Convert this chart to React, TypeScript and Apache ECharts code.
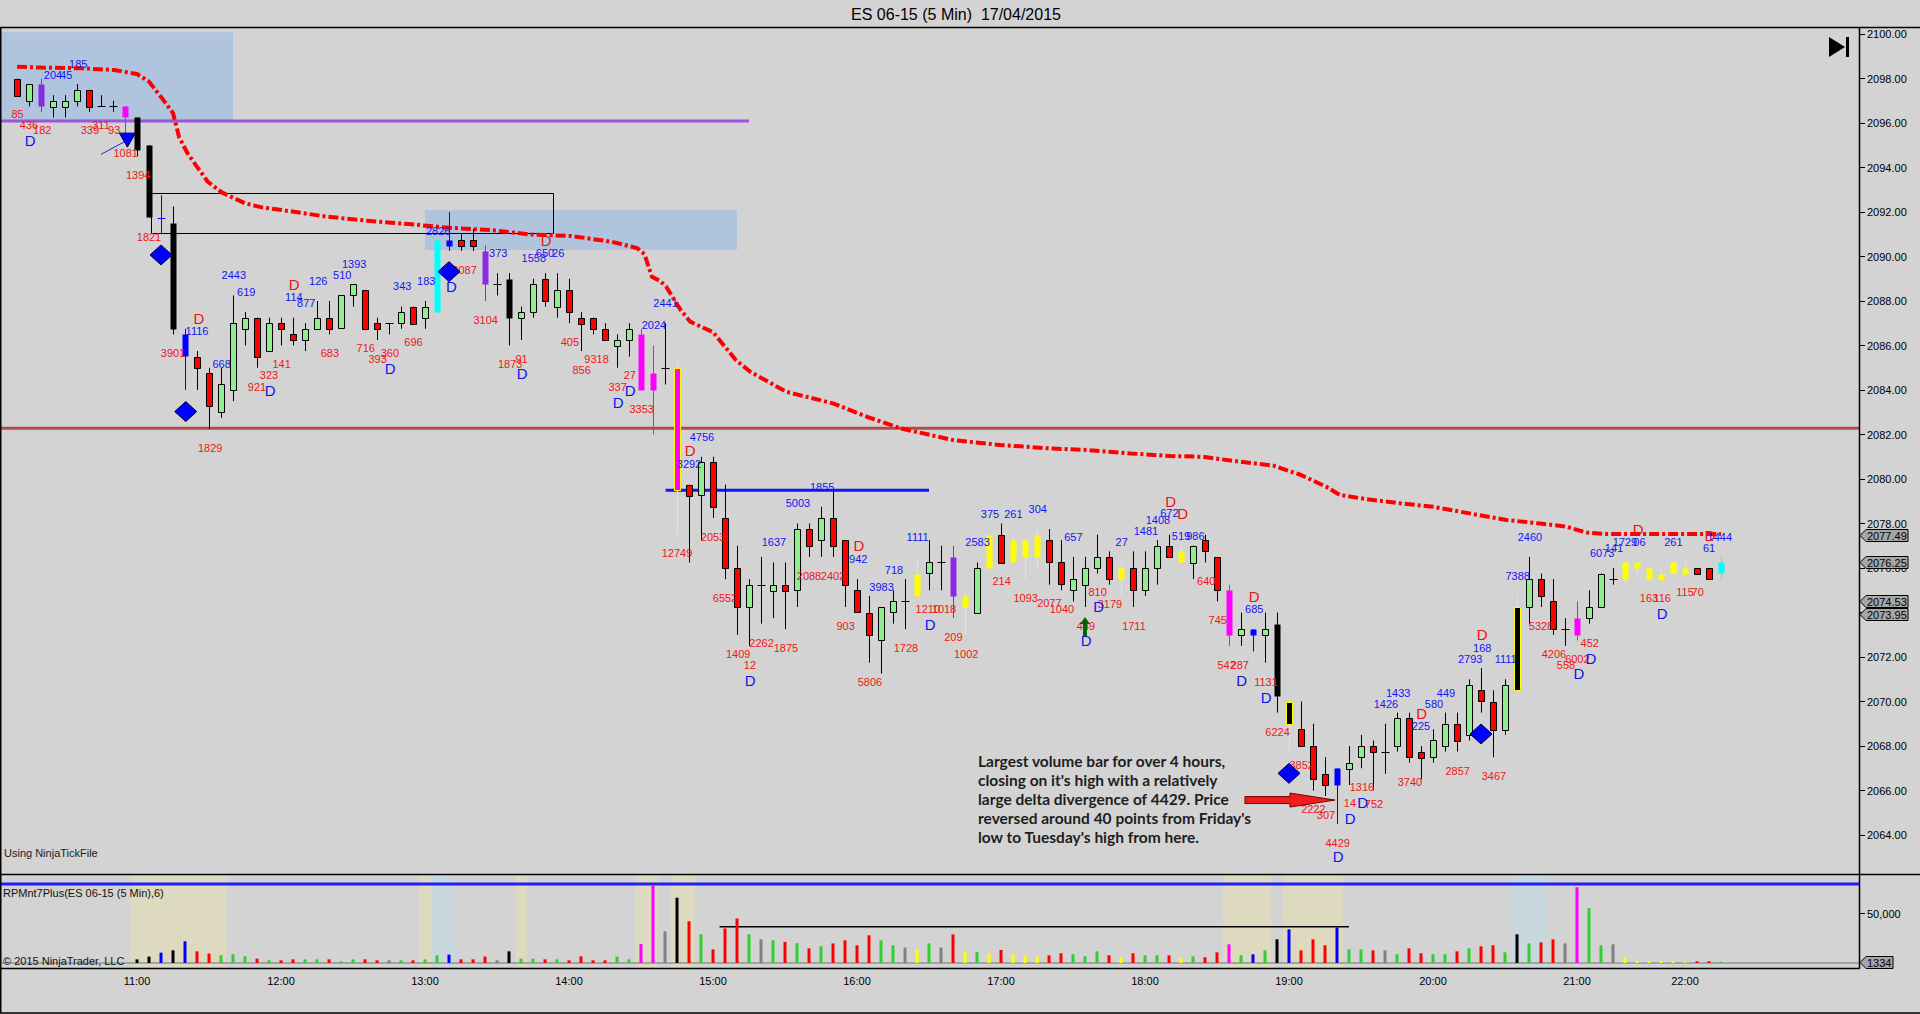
import React, { useEffect, useRef } from "react";
import * as echarts from "echarts";

const FONT = '"Liberation Sans", Arial, sans-serif';

const titleText = "ES 06-15 (5 Min)  17/04/2015";
const hourTicks = [10, 22, 34, 46, 58, 70, 82, 94, 106, 118, 130, 139];
const hourLabels = ["11:00", "12:00", "13:00", "14:00", "15:00", "16:00", "17:00", "18:00", "19:00", "20:00", "21:00", "22:00"];

const opens = [
  2098.0, 2097.0, 2097.75, 2096.75, 2096.75, 2097.0, 2097.5, 2096.75, 2096.75, 2096.75,
  2096.25, 2095.0, 2091.75, 2091.5, 2086.5, 2085.5, 2084.75, 2083.0, 2084.0, 2086.75,
  2087.25, 2085.75, 2087.0, 2086.5, 2086.25, 2086.75, 2087.25, 2086.75, 2088.25, 2088.5,
  2087.0, 2087.0, 2087.0, 2087.75, 2087.25, 2087.5, 2090.75, 2090.75, 2090.75, 2090.25,
  2088.75, 2089.0, 2087.25, 2087.5, 2089.0, 2087.75, 2088.5, 2087.25, 2087.25, 2086.75,
  2086.0, 2086.25, 2086.5, 2084.75, 2085.0, 2085.0, 2079.75, 2079.25, 2080.75, 2078.25,
  2076.0, 2074.25, 2075.25, 2075.0, 2075.25, 2075.0, 2077.75, 2077.25, 2078.25, 2077.25,
  2075.0, 2074.0, 2072.75, 2074.0, 2074.5, 2074.75, 2075.75, 2076.25, 2076.5, 2074.25,
  2074.0, 2076.0, 2077.5, 2076.25, 2077.25, 2076.5, 2077.25, 2076.25, 2075.0, 2075.25,
  2076.0, 2076.5, 2075.5, 2076.0, 2075.0, 2076.0, 2077.0, 2076.25, 2076.25, 2077.25,
  2076.5, 2075.0, 2073.0, 2073.25, 2073.0, 2073.5, 2070.0, 2068.75, 2068.0, 2066.75,
  2066.25, 2067.0, 2067.5, 2068.0, 2067.75, 2068.0, 2069.25, 2067.75, 2067.5, 2068.0,
  2069.0, 2068.5, 2070.5, 2070.0, 2068.75, 2070.5, 2074.25, 2075.5, 2074.5, 2073.25,
  2073.0, 2073.75, 2074.25, 2075.5, 2075.5, 2076.25, 2076.0, 2075.5, 2075.75, 2076.0,
  2076.0, 2076.0, 2075.75,
];
const highs = [
  2098.0, 2097.75, 2098.0, 2097.25, 2097.25, 2097.75, 2097.5, 2097.25, 2097.0, 2096.75,
  2096.25, 2095.0, 2092.75, 2092.25, 2086.75, 2085.75, 2085.0, 2085.0, 2088.25, 2087.5,
  2087.25, 2087.25, 2087.25, 2087.25, 2087.0, 2088.0, 2088.0, 2088.25, 2088.75, 2088.5,
  2087.25, 2087.0, 2087.75, 2087.75, 2088.0, 2090.75, 2092.0, 2091.0, 2091.25, 2090.5,
  2089.25, 2089.25, 2087.75, 2089.0, 2089.25, 2089.25, 2089.0, 2087.5, 2087.25, 2087.0,
  2086.5, 2087.0, 2086.75, 2086.0, 2087.0, 2085.25, 2079.75, 2081.0, 2081.0, 2079.75,
  2077.0, 2075.5, 2076.5, 2076.25, 2076.25, 2078.0, 2078.0, 2078.75, 2079.5, 2077.25,
  2075.5, 2074.75, 2074.25, 2075.0, 2075.5, 2076.5, 2077.25, 2077.0, 2077.0, 2075.0,
  2076.25, 2077.5, 2078.0, 2077.5, 2077.25, 2077.75, 2077.75, 2077.25, 2076.5, 2076.5,
  2077.5, 2076.75, 2076.25, 2076.75, 2076.75, 2077.25, 2077.5, 2077.0, 2077.0, 2077.5,
  2076.5, 2075.25, 2074.0, 2073.25, 2074.0, 2074.0, 2070.0, 2070.0, 2069.0, 2067.5,
  2067.0, 2068.0, 2068.5, 2068.25, 2069.0, 2069.5, 2069.5, 2068.0, 2068.75, 2069.5,
  2069.5, 2071.0, 2071.5, 2070.5, 2071.0, 2074.75, 2076.5, 2075.75, 2075.5, 2073.75,
  2074.5, 2075.0, 2075.75, 2076.0, 2076.25, 2076.25, 2076.0, 2076.0, 2076.25, 2076.25,
  2076.0, 2076.0, 2076.5,
];
const lows = [
  2097.25, 2096.75, 2096.5, 2096.25, 2096.25, 2096.75, 2096.5, 2096.75, 2096.5, 2095.5,
  2094.5, 2091.75, 2091.0, 2086.5, 2084.0, 2084.0, 2082.25, 2082.75, 2083.5, 2086.0,
  2085.0, 2085.75, 2086.0, 2086.0, 2085.75, 2086.75, 2086.5, 2086.75, 2087.75, 2086.75,
  2086.25, 2086.5, 2086.75, 2087.0, 2086.75, 2087.5, 2090.25, 2090.25, 2090.25, 2088.0,
  2088.25, 2086.0, 2086.25, 2087.25, 2087.75, 2087.25, 2087.0, 2085.75, 2086.5, 2086.25,
  2085.0, 2085.5, 2084.0, 2082.0, 2084.25, 2077.5, 2076.25, 2077.25, 2078.25, 2075.5,
  2073.0, 2072.5, 2073.5, 2073.75, 2073.25, 2074.25, 2076.5, 2076.5, 2076.5, 2074.25,
  2074.0, 2071.75, 2071.25, 2073.5, 2073.25, 2074.75, 2075.0, 2075.0, 2073.75, 2073.0,
  2074.0, 2076.0, 2076.25, 2076.25, 2075.5, 2076.0, 2075.25, 2075.0, 2074.5, 2074.25,
  2075.75, 2075.25, 2074.75, 2074.25, 2074.75, 2075.25, 2076.5, 2076.25, 2075.5, 2076.25,
  2074.5, 2072.5, 2072.5, 2072.25, 2071.75, 2069.5, 2067.75, 2068.0, 2066.0, 2065.75,
  2064.5, 2066.25, 2067.0, 2066.0, 2066.75, 2067.75, 2067.25, 2066.5, 2067.25, 2067.75,
  2067.75, 2068.25, 2069.5, 2067.5, 2068.5, 2070.5, 2073.5, 2074.25, 2073.0, 2072.5,
  2072.75, 2073.5, 2074.25, 2075.25, 2075.25, 2075.75, 2075.5, 2075.5, 2075.75, 2075.75,
  2075.75, 2075.5, 2075.5,
];
const closes = [
  2097.25, 2097.75, 2096.75, 2097.0, 2097.0, 2097.5, 2096.75, 2096.75, 2096.75, 2096.25,
  2094.75, 2091.75, 2091.75, 2086.75, 2085.5, 2085.0, 2083.25, 2084.25, 2087.0, 2087.25,
  2085.5, 2087.0, 2086.75, 2086.25, 2086.75, 2087.25, 2086.75, 2088.25, 2088.75, 2086.75,
  2086.75, 2087.0, 2087.5, 2087.0, 2087.75, 2090.75, 2090.5, 2090.5, 2090.5, 2088.75,
  2088.75, 2087.25, 2087.5, 2088.75, 2088.0, 2088.5, 2087.5, 2087.0, 2086.75, 2086.25,
  2086.25, 2086.75, 2084.0, 2084.0, 2085.0, 2079.5, 2079.25, 2080.75, 2078.75, 2076.0,
  2074.25, 2075.25, 2075.25, 2075.25, 2075.0, 2077.75, 2077.0, 2078.25, 2077.0, 2075.25,
  2074.0, 2073.0, 2074.25, 2074.5, 2074.5, 2075.75, 2076.25, 2076.25, 2074.75, 2074.75,
  2076.0, 2077.5, 2076.25, 2077.25, 2076.5, 2077.5, 2076.25, 2075.25, 2075.5, 2076.0,
  2076.5, 2075.5, 2076.0, 2075.0, 2076.0, 2077.0, 2076.5, 2076.75, 2077.0, 2076.75,
  2075.0, 2073.0, 2073.25, 2073.0, 2073.25, 2070.25, 2069.0, 2068.0, 2066.5, 2066.25,
  2067.0, 2067.25, 2068.0, 2067.75, 2067.75, 2069.25, 2067.5, 2067.5, 2068.25, 2069.0,
  2068.25, 2070.75, 2070.0, 2068.75, 2070.75, 2074.25, 2075.5, 2074.75, 2073.25, 2073.25,
  2073.75, 2074.25, 2075.75, 2075.5, 2076.25, 2076.0, 2075.5, 2075.75, 2076.25, 2075.75,
  2075.75, 2075.5, 2076.25,
];
// n normal, p purple, m magenta, M magenta+yellow, k black, K black+yellow, b blue, c cyan, y yellow
const barKinds =
  "nnpnnnnnnm" + "kkbkbnnnnn" + "nnnnnnnnnn" + "nnnnncbnnp" + "nknnnnnnnn" +
  "nnmmnMnnnn" + "nnnnnnnnnn" + "nnnnnynnpy" + "nynyyynnnn" + "nnynnnnynn" +
  "nmnbnkKnnn" + "bnnnnnnnnn" + "nnnnnKnnnn" + "mnnnyyyyyy" + "nnc";

const VOL_FIRST = 10;
const volumes = [
  3700, 6500, 10500, 12800, 22000, 11800, 9500, 7800, 8800, 6800,
  4400, 2700, 2700, 3700, 3700, 3700, 3700, 1700, 3700, 3700,
  2700, 2700, 2700, 2700, 3700, 7800, 8500, 3700, 3700, 6500,
  2700, 11800, 4400, 4400, 3700, 3700, 2700, 6800, 2700, 2700,
  6500, 3700, 19200, 78600, 32000, 66000, 42200, 29000, 13800, 35000,
  45000, 29000, 24000, 23000, 21300, 20000, 14800, 16900, 19800, 23000,
  17900, 28000, 23000, 17900, 15600, 13800, 19800, 15600, 29000, 11100,
  11100, 9800, 13200, 8800, 7800, 6800, 7800, 9800, 8800, 6800,
  11800, 7800, 5800, 9800, 7800, 7800, 7800, 4800, 6800, 5800,
  10800, 18900, 7800, 8800, 12800, 24000, 34000, 12800, 24000, 17900,
  36000, 13800, 13800, 12800, 12800, 8800, 14800, 9800, 8800, 8800,
  11800, 14800, 16900, 17900, 10800, 29000, 19800, 20800, 24000, 19800,
  76600, 55400, 17900, 18900, 5800, 1800, 1800, 1800, 1800, 800,
  1800, 1800, 1334,
];
const volKinds =
  "kkbkbrrggg" + "rgrrggrggr" + "ragrggbrrr" + "akggrgrrrr" + "ggmmakrgrr" +
  "rgagrgrgrr" + "rrggaygary" + "gyryyyrrgg" + "gryrggrygr" + "rmgbgkbrrr" +
  "bggragrrgg" + "rgrrgkgrra" + "mggayyyyyy" + "rrg";

const vwapIdx = [
  0, 2, 5.4, 8.1, 10, 11, 12.2, 13, 13.5, 14.2, 14.9, 15.9, 17.1, 19, 20.4, 23.1, 25.8, 29.2,
  32.6, 36, 39.4, 42.8, 46.2, 49.6, 51.7, 52.3, 52.9, 53.6, 54.1, 55.3, 56.1, 58, 59.9, 61.1,
  64.1, 68, 70.8, 73.6, 78, 81.9, 85.9, 89.3, 92.8, 96.1, 98.8, 101.3, 104.7, 107, 109.1,
  110.25, 112.5, 115.25, 118, 121.4, 124.1, 126.9, 129.1, 130.8, 132.5, 142,
];
const vwapVal = [
  2098.53, 2098.49, 2098.46, 2098.38, 2098.2, 2097.86, 2097.03, 2096.45, 2095.38, 2094.65,
  2094.11, 2093.36, 2092.87, 2092.39, 2092.21, 2092.01, 2091.79, 2091.61, 2091.46, 2091.29,
  2091.19, 2090.99, 2090.92, 2090.66, 2090.37, 2090.1, 2089.09, 2088.9, 2088.64, 2087.6,
  2087.07, 2086.6, 2085.35, 2084.82, 2083.92, 2083.4, 2082.8, 2082.28, 2081.75, 2081.53,
  2081.38, 2081.3, 2081.15, 2081.03, 2081.0, 2080.82, 2080.6, 2080.18, 2079.65, 2079.28,
  2079.09, 2078.91, 2078.75, 2078.42, 2078.16, 2078.0, 2077.86, 2077.59, 2077.53, 2077.53,
];

const redNoteText = ["85","436","182","339","311","93","1081","1394","1821","3901","1829","323","921","141","683","716","393","360","696","2087","3104","1873","91","405","856","9318","27","337","3353","12749","2053","6552","2088","2402","903","1409","12","2262","1875","5806","1728","1210","1018","209","1002","214","1093","2077","1040","449","810","3179","1711","640","745","542","287","1131","6224","3852","2222","307","14","752","4429","1316","3740","2857","3467","5328","4206","558","6002","452","163","116","115","70"];
const redNoteIdx = [0.05,1.0,2.1,6.07,7.0,8.1,9.06,10.1,11.0,13.0,16.1,21.0,20.0,22.05,26.07,29.06,30.05,31.07,33.04,37.3,39.06,41.1,42.05,46.07,47.05,48.3,51.07,50.05,52.06,55.0,58.0,59.0,66.0,68.0,69.05,60.1,61.08,62.05,64.08,71.08,74.08,75.9,77.25,78.03,79.1,82.05,84.06,86.03,87.08,89.08,90.05,91.08,93.08,99.1,100.06,100.8,101.9,104.08,105.05,107.06,108.03,109.08,111.08,113.08,110.06,112.08,116.08,120.06,123.08,127.0,128.08,129.08,130.03,131.06,136.0,137.1,139.0,140.06];
const redNotePrice = [2096.39,2095.91,2095.68,2095.68,2095.91,2095.68,2094.64,2093.66,2090.89,2085.68,2081.38,2084.67,2084.15,2085.17,2085.68,2085.9,2085.39,2085.68,2086.17,2089.39,2087.15,2085.17,2085.39,2086.17,2084.9,2085.39,2084.67,2084.15,2083.15,2076.66,2077.38,2074.64,2075.64,2075.64,2073.39,2072.13,2071.64,2072.64,2072.42,2070.89,2072.42,2074.17,2074.17,2072.88,2072.13,2075.41,2074.64,2074.41,2074.16,2073.41,2074.94,2074.38,2073.41,2075.43,2073.66,2071.64,2071.64,2070.89,2068.61,2067.15,2065.16,2064.9,2065.42,2065.39,2063.62,2066.15,2066.4,2066.88,2066.67,2073.41,2072.13,2071.64,2071.91,2072.64,2074.67,2074.67,2074.91,2074.91];

const blueNoteText = ["185","204","45","1116","668","2443","619","114","877","126","510","1393","343","183","2826","373","1558","650","26","2441","2024","4756","3292","1855","5003","1637","942","3983","718","1111","2583","375","261","304","657","27","1481","1408","672","519","986","685","1426","1433","225","580","449","2793","168","1111","2460","7388","6073","141","1729","06","261","1444","61"];
const blueNoteIdx = [5.1,3.0,4.1,15.0,17.05,18.07,19.1,23.07,24.1,25.1,27.1,28.1,32.1,34.1,35.1,40.1,43.07,44.0,45.1,54.05,53.08,57.08,56.0,67.1,65.08,63.08,70.1,72.05,73.08,75.05,80.05,81.08,83.03,85.06,88.03,92.06,94.08,95.08,96.03,97.0,98.2,103.1,114.08,115.1,117.0,118.08,119.08,121.1,122.1,124.06,126.08,125.06,132.1,133.08,134.0,135.2,138.03,141.9,141.0];
const blueNotePrice = [2098.65,2098.16,2098.16,2086.65,2085.17,2089.17,2088.39,2088.19,2087.9,2088.9,2089.17,2089.66,2088.67,2088.9,2091.16,2090.14,2089.92,2090.14,2090.14,2087.93,2086.92,2081.9,2080.67,2079.65,2078.93,2077.15,2076.4,2075.16,2075.91,2077.39,2077.15,2078.41,2078.41,2078.64,2077.39,2077.15,2077.66,2078.16,2078.46,2077.43,2077.43,2074.16,2069.89,2070.4,2068.9,2069.89,2070.4,2071.91,2072.42,2071.91,2077.38,2075.64,2076.66,2076.92,2077.18,2077.18,2077.18,2077.38,2076.89];

const dBlueIdx = [1.1,21.1,31.1,36.2,42.1,51.1,50.1,61.1,76.1,89.1,90.14,102.06,104.1,111.1,112.14,110.1,131.17,130.17,137.1];
const dBluePrice = [2095.23,2084.0,2084.97,2088.67,2084.72,2084.0,2083.45,2070.96,2073.48,2072.72,2074.26,2070.96,2070.18,2064.72,2065.47,2063.03,2071.94,2071.24,2073.96];
const dRedIdx = [15.15,23.1,44.1,56.1,70.17,96.14,97.14,103.1,117.06,122.1,135.1,141.08];
const dRedPrice = [2087.22,2088.75,2090.74,2081.26,2077.0,2079.01,2078.46,2074.74,2069.47,2072.99,2077.75,2077.48];

const diamondIdx = [12.0, 14.06, 36.0, 106.0, 122.0];
const diamondPrice = [2090.07, 2083.03, 2089.32, 2066.77, 2068.54];

const priceMarkers = [2077.49, 2076.25, 2074.53, 2073.95];

const zoneFrom = [-1.42, 34.0];
const zoneTo = [18.0, 60.0];
const zoneLow = [2096.14, 2090.29];
const zoneHigh = [2100.08, 2092.09];
const outlineBox = { from: 11.2, to: 44.7, low: 2091.04, high: 2092.84 };
const purpleLevel = { from: -1.42, to: 61.0, price: 2096.09 };
const redLevel = { from: -1.42, to: 153.5, price: 2082.28 };
const blueLevel = { from: 54.05, to: 76.0, price: 2079.5 };
const triangleMark = { idx: 9.2, price: 2095.23, lineFromIdx: 7.0, lineFromPrice: 2094.59 };
const greenArrow = { idx: 89.0, top: 2073.8, bottom: 2072.93 };
const redArrow = { tail: 102.33, neck: 106.08, tip: 109.83, price: 2065.57 };

const beigeFrom = [9.45, 33.5, 41.55, 51.5, 54.5, 100.5, 105.5];
const beigeTo = [17.47, 34.5, 42.5, 53.4, 56.5, 104.5, 110.5];
const blueBandFrom = [34.5, 124.5];
const blueBandTo = [36.45, 127.5];
const volTopLevel = 79900;
const volLevel = { from: 58.54, to: 111.0, value: 36700 };

const commentLines = [
  "Largest volume bar for over 4 hours,",
  "closing on it's high with a relatively",
  "large delta divergence of 4429. Price",
  "reversed around 40 points from Friday's",
  "low to Tuesday's high from here.",
];

const X_MIN = -1;
const X_MAX = 153.5;
const VOL_MAX = 90000;

const FILL: Record<string, string> = { p: "#8A2BE2", m: "#FF00FF", M: "#FF00FF", k: "#000000", K: "#000000", b: "#0000FF", c: "#00FFFF", y: "#FFFF00" };
const EDGE: Record<string, string> = { M: "#FFFF00", K: "#FFFF00" };
const VOLC: Record<string, string> = { g: "#32CD32", r: "#FF0000", a: "#808080", k: "#000000", b: "#0000FF", m: "#FF00FF", y: "#FFFF00" };

function custom(grid: number, data: any[], z: number, renderItem: any) {
  return { type: "custom", xAxisIndex: grid, yAxisIndex: grid, data, z, clip: false, silent: true, renderItem };
}

function hline(api: any, x0: number, x1: number, v: number, stroke: string, lineWidth: number) {
  const a = api.coord([x0, v]);
  const b = api.coord([x1, v]);
  return { type: "line", shape: { x1: a[0], y1: a[1], x2: b[0], y2: b[1] }, style: { stroke, lineWidth } };
}

function buildOption() {
  const candleData = opens.map((o, k) => [k, o, closes[k], lows[k], highs[k]]);

  const renderCandle = (params: any, api: any) => {
    const k = params.dataIndex;
    const kind = barKinds[k];
    const po = api.coord([k, opens[k]]);
    const x = Math.round(po[0]) + 0.5;
    const yo = po[1];
    const yc = api.coord([k, closes[k]])[1];
    const yh = api.coord([k, highs[k]])[1];
    const yl = api.coord([k, lows[k]])[1];
    let fill: string;
    let stroke: string | null;
    let wick = "#000";
    if (kind === "n") {
      fill = closes[k] > opens[k] ? "#90EE90" : "#FF0000";
      stroke = "#000";
    } else {
      fill = FILL[kind];
      stroke = EDGE[kind] || null;
      wick = EDGE[kind] || FILL[kind];
    }
    const children: any[] = [
      { type: "line", shape: { x1: x, y1: yh, x2: x, y2: yl }, style: { stroke: wick, lineWidth: 1 } },
    ];
    if (opens[k] === closes[k]) {
      const yy = Math.round(yo) + 0.5;
      children.push({ type: "line", shape: { x1: x - 4, y1: yy, x2: x + 4, y2: yy }, style: { stroke: kind === "n" ? "#000" : fill, lineWidth: 1 } });
    } else {
      const top = Math.round(Math.min(yo, yc)) + 0.5;
      const h = Math.max(1, Math.round(Math.abs(yo - yc)));
      const style: any = { fill };
      if (stroke) { style.stroke = stroke; style.lineWidth = 1; }
      children.push({ type: "rect", shape: { x: x - 3, y: top, width: 6, height: h }, style });
    }
    return { type: "group", children };
  };

  const textRender = (texts: string[], color: string, size: number, weight: string) => (params: any, api: any) => {
    const p = api.coord([api.value(0), api.value(1)]);
    return {
      type: "text",
      x: p[0],
      y: p[1],
      style: { text: texts[params.dataIndex], fill: color, fontSize: size, fontFamily: FONT, fontWeight: weight, align: "center", verticalAlign: "middle" },
    };
  };

  const zonesRender = (params: any, api: any) => {
    const k = params.dataIndex;
    const a = api.coord([zoneFrom[k], zoneHigh[k]]);
    const b = api.coord([zoneTo[k], zoneLow[k]]);
    return { type: "rect", shape: { x: a[0], y: a[1], width: b[0] - a[0], height: b[1] - a[1] }, style: { fill: "#B0C4DE" } };
  };

  const levelsRender = (params: any, api: any) => {
    const a = api.coord([outlineBox.from, outlineBox.high]);
    const b = api.coord([outlineBox.to, outlineBox.low]);
    return {
      type: "group",
      children: [
        hline(api, purpleLevel.from, purpleLevel.to, purpleLevel.price, "rgba(138,43,226,0.75)", 3),
        hline(api, redLevel.from, redLevel.to, redLevel.price, "rgba(170,30,30,0.75)", 3),
        hline(api, blueLevel.from, blueLevel.to, blueLevel.price, "#1414FF", 3),
        {
          type: "rect",
          shape: { x: Math.round(a[0]) + 0.5, y: Math.round(a[1]) + 0.5, width: Math.round(b[0] - a[0]), height: Math.round(b[1] - a[1]) },
          style: { fill: "none", stroke: "#000", lineWidth: 1 },
        },
      ],
    };
  };

  const shapesRender = (params: any, api: any) => {
    const children: any[] = [];
    diamondIdx.forEach((d, k) => {
      const p = api.coord([d, diamondPrice[k]]);
      children.push({
        type: "polygon",
        shape: { points: [[p[0], p[1] - 10], [p[0] + 11, p[1]], [p[0], p[1] + 10], [p[0] - 11, p[1]]] },
        style: { fill: "#0000FF", stroke: "#00003A", lineWidth: 1 },
      });
    });
    const t = api.coord([triangleMark.idx, triangleMark.price]);
    const tl = api.coord([triangleMark.lineFromIdx, triangleMark.lineFromPrice]);
    children.push({ type: "line", shape: { x1: tl[0], y1: tl[1], x2: t[0], y2: t[1] }, style: { stroke: "#1E1EFF", lineWidth: 1 } });
    children.push({
      type: "polygon",
      shape: { points: [[t[0] - 8, t[1] - 7], [t[0] + 8, t[1] - 7], [t[0], t[1] + 7]] },
      style: { fill: "#0000FF", stroke: "#00003A", lineWidth: 1 },
    });
    const gt = api.coord([greenArrow.idx, greenArrow.top]);
    const gb = api.coord([greenArrow.idx, greenArrow.bottom]);
    children.push({
      type: "polygon",
      shape: {
        points: [
          [gt[0], gt[1]], [gt[0] + 5, gt[1] + 7], [gt[0] + 2, gt[1] + 7], [gt[0] + 2, gb[1]],
          [gt[0] - 2, gb[1]], [gt[0] - 2, gt[1] + 7], [gt[0] - 5, gt[1] + 7],
        ],
      },
      style: { fill: "#006400" },
    });
    const rt = api.coord([redArrow.tail, redArrow.price]);
    const rn = api.coord([redArrow.neck, redArrow.price]);
    const rp = api.coord([redArrow.tip, redArrow.price]);
    const y = rt[1];
    children.push({
      type: "polygon",
      shape: {
        points: [
          [rt[0], y - 3.5], [rn[0], y - 3.5], [rn[0], y - 7], [rp[0], y],
          [rn[0], y + 7], [rn[0], y + 3.5], [rt[0], y + 3.5],
        ],
      },
      style: { fill: "#EE1C1C", stroke: "#7A0000", lineWidth: 1 },
    });
    return { type: "group", children };
  };

  const markerRender = (labels: string[], width: number) => (params: any, api: any) => {
    const p = api.coord([api.value(0), api.value(1)]);
    const x = p[0];
    const y = Math.round(p[1]) + 0.5;
    return {
      type: "group",
      children: [
        {
          type: "polygon",
          shape: { points: [[x + 1, y], [x + 7, y - 6], [x + width, y - 6], [x + width, y + 6], [x + 7, y + 6]] },
          style: { fill: "#A6A6A6", stroke: "#000", lineWidth: 1 },
        },
        {
          type: "text",
          x: x + 8,
          y: y + 0.5,
          style: { text: labels[params.dataIndex], fill: "#000", fontSize: 11, fontFamily: FONT, align: "left", verticalAlign: "middle" },
        },
      ],
    };
  };

  const bandRender = (params: any, api: any) => {
    const children: any[] = [];
    beigeFrom.forEach((f, k) => {
      const a = api.coord([f, VOL_MAX]);
      const b = api.coord([beigeTo[k], -4000]);
      children.push({ type: "rect", shape: { x: a[0], y: a[1], width: b[0] - a[0], height: b[1] - a[1] }, style: { fill: "#DEDAC0" } });
    });
    blueBandFrom.forEach((f, k) => {
      const a = api.coord([f, VOL_MAX]);
      const b = api.coord([blueBandTo[k], -4000]);
      children.push({ type: "rect", shape: { x: a[0], y: a[1], width: b[0] - a[0], height: b[1] - a[1] }, style: { fill: "#C9D7DF" } });
    });
    return { type: "group", children };
  };

  const volLinesRender = (params: any, api: any) => ({
    type: "group",
    children: [
      hline(api, -1.42, X_MAX, 0, "#A4A4A4", 2),
      hline(api, -1.42, X_MAX, volTopLevel, "#1E1EFF", 3),
      hline(api, volLevel.from, volLevel.to, volLevel.value, "#000", 1.5),
    ],
  });

  const volData = volumes.map((v, k) => ({
    value: [k + VOL_FIRST, v],
    itemStyle: { color: VOLC[volKinds[k]] },
  }));

  const lastVol = volumes[volumes.length - 1];

  return {
    animation: false,
    backgroundColor: "#D3D3D3",
    textStyle: { fontFamily: FONT },
    grid: [
      { left: 5, right: 61, top: 34, bottom: 134.5, containLabel: false, outerBoundsMode: "none" },
      { left: 5, right: 61, top: 874, bottom: 51, containLabel: false, outerBoundsMode: "none" },
    ],
    xAxis: [
      { gridIndex: 0, type: "value", min: X_MIN, max: X_MAX, show: false, axisLine: { onZero: false } },
      {
        gridIndex: 1,
        type: "value",
        min: X_MIN,
        max: X_MAX,
        interval: 1,
        offset: 5,
        axisLine: { show: false, onZero: false },
        axisTick: { show: false },
        splitLine: { show: false },
        axisLabel: {
          margin: 7,
          fontSize: 11,
          color: "#000",
          fontFamily: FONT,
          formatter: (v: number) => {
            const r = Math.round(v);
            if (Math.abs(v - r) > 1e-6) return "";
            const k = hourTicks.indexOf(r);
            return k >= 0 ? hourLabels[k] : "";
          },
        },
      },
    ],
    yAxis: [
      {
        gridIndex: 0,
        type: "value",
        position: "right",
        min: 2062,
        max: 2100,
        interval: 2,
        axisLine: { show: false, onZero: false },
        axisTick: { show: true, length: 6, lineStyle: { color: "#000", width: 1 } },
        splitLine: { show: false },
        axisLabel: { showMinLabel: false, margin: 8, fontSize: 11, color: "#000", fontFamily: FONT, formatter: (v: number) => v.toFixed(2) },
      },
      {
        gridIndex: 1,
        type: "value",
        position: "right",
        min: 0,
        max: VOL_MAX,
        interval: 50000,
        axisLine: { show: false, onZero: false },
        axisTick: { show: true, length: 6, lineStyle: { color: "#000", width: 1 } },
        splitLine: { show: false },
        axisLabel: { showMinLabel: false, showMaxLabel: false, margin: 8, fontSize: 11, color: "#000", fontFamily: FONT },
      },
    ],
    series: [
      custom(0, zoneFrom.map((f, k) => [f, zoneLow[k]]), 1, zonesRender),
      custom(0, [[0, 2080]], 1.5, levelsRender),
      custom(0, candleData, 3, renderCandle),
      {
        type: "line",
        xAxisIndex: 0,
        yAxisIndex: 0,
        data: vwapIdx.map((x, k) => [x, vwapVal[k]]),
        showSymbol: false,
        symbol: "none",
        silent: true,
        z: 4,
        lineStyle: { color: "#FF0000", width: 4, type: [10, 3, 3, 3], cap: "butt" },
      },
      custom(0, redNoteIdx.map((x, k) => [x, redNotePrice[k]]), 5, textRender(redNoteText, "#F21414", 11, "normal")),
      custom(0, blueNoteIdx.map((x, k) => [x, blueNotePrice[k]]), 5, textRender(blueNoteText, "#1414F2", 11, "normal")),
      custom(0, dBlueIdx.map((x, k) => [x, dBluePrice[k]]), 5, textRender(dBlueIdx.map(() => "D"), "#1010F0", 15, "normal")),
      custom(0, dRedIdx.map((x, k) => [x, dRedPrice[k]]), 5, textRender(dRedIdx.map(() => "D"), "#F01010", 15, "normal")),
      custom(0, [[0, 2080]], 6, shapesRender),
      custom(0, priceMarkers.map((v) => [X_MAX, v]), 8, markerRender(priceMarkers.map((v) => v.toFixed(2)), 49)),
      custom(1, [[0, 0]], 1, bandRender),
      custom(1, [[0, 0]], 2, volLinesRender),
      {
        type: "bar",
        xAxisIndex: 1,
        yAxisIndex: 1,
        data: volData,
        barWidth: 3,
        silent: true,
        z: 3,
      },
      custom(1, [[X_MAX, lastVol]], 8, markerRender([String(lastVol)], 34)),
    ],
    graphic: {
      elements: [
        { type: "text", x: 956, y: 14, style: { text: titleText, fill: "#000", fontSize: 16, fontFamily: FONT, align: "center", verticalAlign: "middle" }, z: 10 },
        { type: "line", shape: { x1: 0, y1: 27.5, x2: 1920, y2: 27.5 }, style: { stroke: "#000", lineWidth: 1.5 }, z: 10 },
        { type: "line", shape: { x1: 0, y1: 874.5, x2: 1920, y2: 874.5 }, style: { stroke: "#000", lineWidth: 1.5 }, z: 10 },
        { type: "line", shape: { x1: 0, y1: 968.5, x2: 1859, y2: 968.5 }, style: { stroke: "#000", lineWidth: 1.5 }, z: 10 },
        { type: "line", shape: { x1: 0, y1: 1013, x2: 1920, y2: 1013 }, style: { stroke: "#000", lineWidth: 1.5 }, z: 10 },
        { type: "line", shape: { x1: 1859.5, y1: 27, x2: 1859.5, y2: 969 }, style: { stroke: "#000", lineWidth: 1.5 }, z: 10 },
        { type: "line", shape: { x1: 0.75, y1: 27, x2: 0.75, y2: 1013 }, style: { stroke: "#000", lineWidth: 1.5 }, z: 10 },
        { type: "polygon", shape: { points: [[1829, 37], [1829, 57], [1845, 47]] }, style: { fill: "#000" }, z: 10 },
        { type: "rect", shape: { x: 1846, y: 37, width: 3, height: 20 }, style: { fill: "#000" }, z: 10 },
        { type: "text", x: 4, y: 853, style: { text: "Using NinjaTickFile", fill: "#222", fontSize: 11, fontFamily: FONT, align: "left", verticalAlign: "middle" }, z: 10 },
        { type: "text", x: 3, y: 893, style: { text: "RPMnt7Plus(ES 06-15 (5 Min),6)", fill: "#111", fontSize: 11, fontFamily: FONT, align: "left", verticalAlign: "middle" }, z: 10 },
        { type: "text", x: 3, y: 961, style: { text: "\u00A9 2015 NinjaTrader, LLC", fill: "#111", fontSize: 11, fontFamily: FONT, align: "left", verticalAlign: "middle" }, z: 10 },
        {
          type: "text",
          x: 978,
          y: 751,
          style: { text: commentLines.join("\n"), fill: "#1E1E1E", fontSize: 15.5, fontWeight: "bold", fontFamily: "Lato, \"Open Sans\", sans-serif", lineHeight: 19, align: "left", verticalAlign: "top" },
          z: 10,
        },
      ],
    },
  };
}

export default function App() {
  const ref = useRef<HTMLDivElement>(null);
  useEffect(() => {
    const chart = echarts.init(ref.current as HTMLDivElement, null, { renderer: "svg" });
    chart.setOption(buildOption() as any);
    return () => chart.dispose();
  }, []);
  return (
    <div
      ref={ref}
      style={{ position: "fixed", left: 0, top: 0, width: 1920, height: 1014, background: "#D3D3D3" }}
    />
  );
}
